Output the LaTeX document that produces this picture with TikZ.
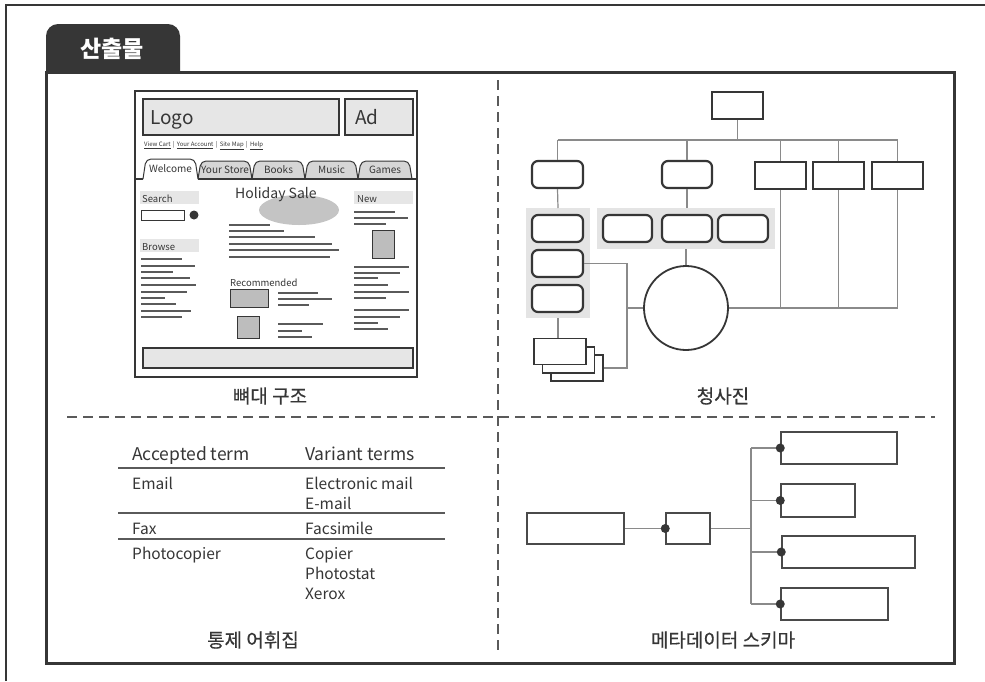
\documentclass[tikz,border=0pt]{standalone}
\usepackage{fontspec}
\setmainfont{Noto Sans CJK KR}
\newfontfamily\kmed{Noto Sans CJK KR}[FakeBold=0.5]
\usetikzlibrary{calc}
\newcommand\myfs[1]{\fontsize{#1}{#1}\selectfont}
\definecolor{dk}{HTML}{363636}
\definecolor{ln}{HTML}{8A8A8A}
\definecolor{wl}{HTML}{5A5A5A}
\definecolor{lg}{HTML}{E6E6E6}
\definecolor{pg}{HTML}{E4E4E4}
\definecolor{mg}{HTML}{BDBDBD}
\definecolor{tg}{HTML}{D6D6D6}
\definecolor{eg}{HTML}{C4C4C4}
\tikzset{
  bpbox/.style={draw=dk, line width=2.2pt, fill=white, inner sep=0pt},
  bpround/.style={bpbox, rounded corners=6pt},
  conn/.style={draw=ln, line width=1.2pt},
  mdbox/.style={draw=dk!90, line width=1.5pt, fill=white, inner sep=0pt},
  mdconn/.style={draw=ln, line width=1.5pt},
  dot/.style={fill=dk},
  wline/.style={draw=wl, line width=1.1pt},
  lbl/.style={font=\kmed\myfs{19}, text=dk},
  thh/.style={font=\myfs{17.5}, text=dk, anchor=base west, inner sep=0pt},
  thb/.style={font=\myfs{15.5}, text=dk, anchor=base west, inner sep=0pt},
  wtext/.style={text=dk, anchor=base west, inner sep=0pt},
  divider/.style={draw=wl, line width=1.5pt, dash pattern=on 10pt off 6pt}
}
\begin{document}
\begin{tikzpicture}[x=1pt,y=-1pt]
\useasboundingbox (0,0) rectangle (985,681);
\fill[white] (0,0) rectangle (985,681);
% outer frame
\draw[dk, line width=1.5pt] (6,681) -- (6,5) -- (985,5);
% tab and panel
\fill[dk, rounded corners=12pt] (46,24) rectangle (180,100);
\fill[white] (46,73) rectangle (954,663);
\draw[dk, line width=3pt] (46,72) rectangle (954,663);
\node[text=white, font=\myfs{23}\bfseries] (tabt) at (112,49) {산출물};
% dividers
\draw[divider] (67,417) -- (935,417);
\draw[divider] (498,80) -- (498,655);

% ===== wireframe =====
\draw[dk, line width=2.5pt] (135,91) rectangle (417,377);
\draw[dk, line width=1.5pt, fill=lg] (143,99) rectangle (339,135);
\draw[dk, line width=1.5pt, fill=lg] (345,99) rectangle (413,135);
\node[wtext, font=\myfs{19}] (logo) at (150,124) {Logo};
\node[wtext, font=\myfs{19}] (ad) at (355,124) {Ad};
\node[wtext, font=\myfs{6}] (links) at (144,146.5) {\underline{View Cart} \,|\, \underline{Your Account} \,|\, \underline{Site Map} \,|\, \underline{Help}};
\foreach \a/\b/\t in {198/252/Your Store, 252/305/Books, 305/358/Music, 358/412/Games} {
  \draw[dk, line width=1pt, fill=tg, rounded corners=5pt] (\a,179) -- (\a+3,161) -- (\b-3,161) -- (\b,179);
  \node[text=dk, anchor=base, inner sep=0pt, font=\myfs{10}] at ({(\a+\b)/2},173) {\t};
}
\draw[dk, line width=1pt, fill=white, rounded corners=5pt] (143,179) -- (146,159) -- (195,159) -- (198,179);
\node[text=dk, anchor=base, inner sep=0pt, font=\myfs{10}] (welc) at (170.5,172) {Welcome};
\draw[dk, line width=1.2pt] (135,179) -- (143,179) (198,179) -- (417,179);
% left column
\fill[lg] (140,191) rectangle (199,204);
\node[wtext, font=\myfs{9.5}] at (142,202) {Search};
\draw[dk, line width=1pt] (141,210) rectangle (184,220);
\fill[dk] (194,215) circle (4.5);
\fill[lg] (140,239) rectangle (199,252);
\node[wtext, font=\myfs{9.5}] at (142,250) {Browse};
\foreach \y/\x in {259/182, 266/195, 272/173, 278/190, 285/196, 292/187, 298/165, 304/176, 311/191, 317/182}
  \draw[wline] (141,\y) -- (\x,\y);
% center column
\fill[eg] (299,210) ellipse (40 and 15);
\node[wtext, font=\myfs{14}] at (235,198) {Holiday Sale};
\foreach \y/\x in {225/270, 231/284, 237/315, 244/332, 250/339, 257/330}
  \draw[wline] (229,\y) -- (\x,\y);
\node[wtext, font=\myfs{9.5}] at (230,286.5) {Recommended};
\draw[dk, line width=1pt, fill=mg] (230,289) rectangle (268,307);
\foreach \y/\x in {293/318, 299/332, 305/309}
  \draw[wline] (278,\y) -- (\x,\y);
\draw[dk, line width=1pt, fill=mg] (237,316) rectangle (259,338);
\foreach \y/\x in {324/323, 331/302, 337/312}
  \draw[wline] (278,\y) -- (\x,\y);
% right column
\fill[lg] (354,191) rectangle (413,204);
\node[wtext, font=\myfs{9.5}] at (357,202) {New};
\foreach \y/\x in {212/395, 218/408, 224/386}
  \draw[wline] (354,\y) -- (\x,\y);
\draw[dk, line width=1pt, fill=mg] (372,230) rectangle (394,258);
\foreach \y/\x in {267/409, 273/400, 278/378, 285/388, 292/409, 298/386, 310/409, 317/400, 323/378, 329/388}
  \draw[wline] (354,\y) -- (\x,\y);
% footer
\draw[dk, line width=1.5pt, fill=lg] (143,348) rectangle (413,368);
\node[lbl] (l1) at (270,396) {뼈대 구조};

% ===== blueprint =====
\fill[pg] (526,208) rectangle (590,318);
\fill[pg] (597,208) rectangle (775,249);
\coordinate (pL) at (558,208);
\coordinate (pLs) at (558,318);
\coordinate (pM) at (687,208);
\coordinate (pMs) at (686,249);
\node[bpbox, minimum width=51pt, minimum height=27pt] (top) at (737.5,105.5) {};
\node[bpround, minimum width=51pt, minimum height=27pt] (A) at (557.5,174.5) {};
\node[bpround, minimum width=50pt, minimum height=27pt] (B) at (687,174.5) {};
\node[bpbox, minimum width=51pt, minimum height=27pt] (C) at (780.5,175.5) {};
\node[bpbox, minimum width=51pt, minimum height=27pt] (D) at (838.5,175.5) {};
\node[bpbox, minimum width=51pt, minimum height=27pt] (E) at (897.5,175.5) {};
\node[bpround, minimum width=51pt, minimum height=27pt] (L1) at (557.5,228.5) {};
\node[bpround, minimum width=51pt, minimum height=27pt] (L2) at (557.5,263.5) {};
\node[bpround, minimum width=51pt, minimum height=27pt] (L3) at (557.5,298.5) {};
\node[bpround, minimum width=49pt, minimum height=27pt] (M1) at (627.5,228.5) {};
\node[bpround, minimum width=50pt, minimum height=27pt] (M2) at (687,228.5) {};
\node[bpround, minimum width=50pt, minimum height=27pt] (M3) at (743,228.5) {};
\node[draw=dk, line width=1.8pt, circle, minimum size=84pt, inner sep=0pt] (ci) at (686,308) {};
\node[draw=dk, line width=1.8pt, fill=white, minimum width=52pt, minimum height=26pt, inner sep=0pt] (doc3) at (577,368) {};
\node[draw=dk, line width=1.8pt, fill=white, minimum width=52pt, minimum height=26pt, inner sep=0pt] (doc2) at (568.5,360) {};
\node[draw=dk, line width=1.8pt, fill=white, minimum width=52pt, minimum height=26pt, inner sep=0pt] (doc1) at (560,351.5) {};
\coordinate (hub) at (737.5,140);
\coordinate (jx) at (627,263.5);
\draw[conn] (top.south) -- (hub);
\draw[conn] (A.north |- hub) -- (E.north |- hub);
\foreach \n in {A,B,C,D,E} \draw[conn] (\n.north |- hub) -- (\n.north);
\draw[conn] (A.south) -- (pL);
\draw[conn] (B.south) -- (pM);
\draw[conn] (pMs) -- (ci.north);
\draw[conn] (pLs) -- (pLs |- doc1.north);
\draw[conn] (L2.east) -- (jx) -- (jx |- doc3.east) -- (doc3.east);
\draw[conn] (jx |- ci.west) -- (ci.west);
\draw[conn] (ci.east) -- (E.south |- ci.east);
\foreach \n in {C,D,E} \draw[conn] (\n.south) -- (\n.south |- ci.east);
\node[lbl] (l2) at (723,396) {청사진};

% ===== thesaurus =====
\node[thh] (h1) at (132,460) {Accepted term};
\node[thh] (h2) at (305,460) {Variant terms};
\draw[wline] (118,468) -- (445,468);
\node[thb] at (132,489) {Email};
\node[thb] at (305,489) {Electronic mail};
\node[thb] at (305,509) {E-mail};
\draw[wline] (118,513) -- (445,513);
\node[thb] at (132,534) {Fax};
\node[thb] at (305,534) {Facsimile};
\draw[wline] (118,539) -- (445,539);
\node[thb] at (132,559) {Photocopier};
\node[thb] at (305,559) {Copier};
\node[thb] at (305,579) {Photostat};
\node[thb] at (305,599) {Xerox};
\node[lbl] (l3) at (253,640) {통제 어휘집};

% ===== metadata schema =====
\node[mdbox, minimum width=97pt, minimum height=31pt] (S0) at (575.5,528.5) {};
\node[mdbox, minimum width=44pt, minimum height=31pt] (S1) at (688,528.5) {};
\node[mdbox, minimum width=116pt, minimum height=32pt] (R1) at (839,448) {};
\node[mdbox, minimum width=74pt, minimum height=33pt] (R2) at (818,500.5) {};
\node[mdbox, minimum width=133pt, minimum height=32pt] (R3) at (848.5,552) {};
\node[mdbox, minimum width=107pt, minimum height=32pt] (R4) at (834.5,604) {};
\coordinate (bx) at (751,528.5);
\draw[mdconn] (S0.east) -- (S1.west);
\draw[mdconn] (S1.east) -- (bx);
\draw[mdconn] (bx |- R1.west) -- (bx |- R4.west);
\foreach \n in {R1,R2,R3,R4} {
  \draw[mdconn] (bx |- \n.west) -- (\n.west);
  \fill[dot] (\n.west) circle (4.5);
}
\fill[dot] (S1.west) circle (4.5);
\node[lbl] (l4) at (723,640) {메타데이터 스키마};
\end{tikzpicture}
\end{document}
